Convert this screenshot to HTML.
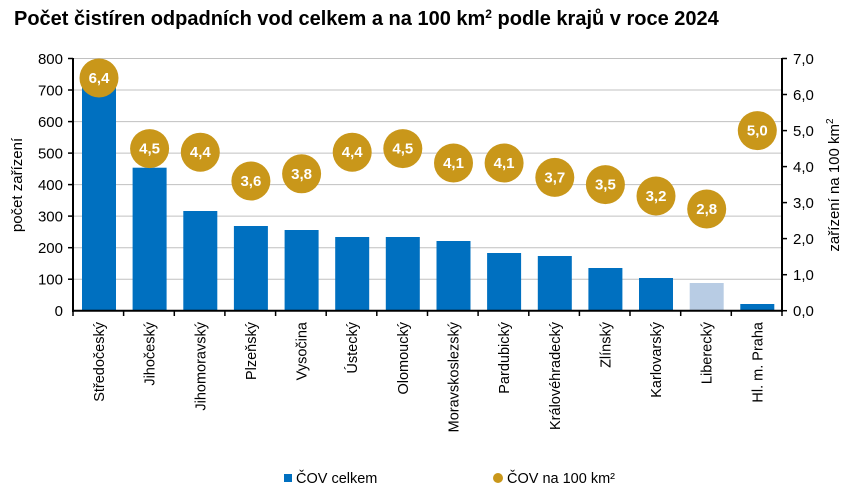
<!DOCTYPE html>
<html><head><meta charset="utf-8"><style>
body{margin:0;background:#fff;}
svg{font-family:"Liberation Sans",Arial,sans-serif;}
</style></head><body>
<svg width="856" height="496" viewBox="0 0 856 496" xmlns="http://www.w3.org/2000/svg">
<rect width="856" height="496" fill="#fff"/>
<text x="14" y="25" font-size="20" font-weight="bold" fill="#000">Počet čistíren odpadních vod celkem a na 100 km<tspan font-size="12" dy="-7">2</tspan><tspan dy="7"> podle krajů v roce 2024</tspan></text>
<g stroke="#c0c0c0" stroke-width="1">
<line x1="73" x2="782" y1="58.5" y2="58.5"/><line x1="73" x2="782" y1="90" y2="90"/><line x1="73" x2="782" y1="121.6" y2="121.6"/><line x1="73" x2="782" y1="153.1" y2="153.1"/><line x1="73" x2="782" y1="184.6" y2="184.6"/><line x1="73" x2="782" y1="216.1" y2="216.1"/><line x1="73" x2="782" y1="247.7" y2="247.7"/><line x1="73" x2="782" y1="279.2" y2="279.2"/>
</g>
<g fill="#0070c0">
<rect x="82" y="80" width="34" height="230.7"/>
<rect x="132.6" y="167.7" width="34" height="143"/>
<rect x="183.3" y="211" width="34" height="99.7"/>
<rect x="233.9" y="226" width="34" height="84.7"/>
<rect x="284.6" y="230" width="34" height="80.7"/>
<rect x="335.2" y="237" width="34" height="73.7"/>
<rect x="385.8" y="237" width="34" height="73.7"/>
<rect x="436.5" y="241" width="34" height="69.7"/>
<rect x="487.1" y="253" width="34" height="57.7"/>
<rect x="537.8" y="256" width="34" height="54.7"/>
<rect x="588.4" y="268" width="34" height="42.7"/>
<rect x="639" y="278" width="34" height="32.7"/>
<rect x="689.7" y="283" width="34" height="27.7" fill="#b8cce4"/>
<rect x="740.3" y="304" width="34" height="6.7"/>
</g>
<g stroke="#000" stroke-width="2" fill="none">
<line x1="73" y1="58" x2="73" y2="312"/>
<line x1="782" y1="58" x2="782" y2="312"/>
<line x1="72" y1="310.7" x2="783" y2="310.7"/>
</g>
<g stroke="#000" stroke-width="1.5">
<line x1="68" x2="73" y1="58.5" y2="58.5"/><line x1="68" x2="73" y1="90" y2="90"/><line x1="68" x2="73" y1="121.6" y2="121.6"/><line x1="68" x2="73" y1="153.1" y2="153.1"/><line x1="68" x2="73" y1="184.6" y2="184.6"/><line x1="68" x2="73" y1="216.1" y2="216.1"/><line x1="68" x2="73" y1="247.7" y2="247.7"/><line x1="68" x2="73" y1="279.2" y2="279.2"/>
<line x1="782" x2="787" y1="58.5" y2="58.5"/><line x1="782" x2="787" y1="94.5" y2="94.5"/><line x1="782" x2="787" y1="130.6" y2="130.6"/><line x1="782" x2="787" y1="166.6" y2="166.6"/><line x1="782" x2="787" y1="202.6" y2="202.6"/><line x1="782" x2="787" y1="238.6" y2="238.6"/><line x1="782" x2="787" y1="274.7" y2="274.7"/><line x1="782" x2="787" y1="310.7" y2="310.7"/>
<line x1="73" x2="73" y1="310" y2="316"/><line x1="123.6" x2="123.6" y1="310" y2="316"/><line x1="174.3" x2="174.3" y1="310" y2="316"/><line x1="224.9" x2="224.9" y1="310" y2="316"/><line x1="275.6" x2="275.6" y1="310" y2="316"/><line x1="326.2" x2="326.2" y1="310" y2="316"/><line x1="376.8" x2="376.8" y1="310" y2="316"/><line x1="427.5" x2="427.5" y1="310" y2="316"/><line x1="478.1" x2="478.1" y1="310" y2="316"/><line x1="528.8" x2="528.8" y1="310" y2="316"/><line x1="579.4" x2="579.4" y1="310" y2="316"/><line x1="630" x2="630" y1="310" y2="316"/><line x1="680.7" x2="680.7" y1="310" y2="316"/><line x1="731.3" x2="731.3" y1="310" y2="316"/><line x1="782" x2="782" y1="310" y2="316"/>
</g>
<g font-size="15" fill="#000" text-anchor="end">
<text x="63" y="64">800</text><text x="63" y="95.5">700</text><text x="63" y="127">600</text><text x="63" y="158.6">500</text><text x="63" y="190.1">400</text><text x="63" y="221.6">300</text><text x="63" y="253.2">200</text><text x="63" y="284.7">100</text><text x="63" y="316.2">0</text>
</g>
<g font-size="15" fill="#000" text-anchor="start">
<text x="793" y="64">7,0</text><text x="793" y="100">6,0</text><text x="793" y="136">5,0</text><text x="793" y="172">4,0</text><text x="793" y="208">3,0</text><text x="793" y="244">2,0</text><text x="793" y="280">1,0</text><text x="793" y="316">0,0</text>
</g>
<text transform="translate(22,185) rotate(-90)" font-size="15" text-anchor="middle">počet zařízení</text>
<text transform="translate(839,185) rotate(-90)" font-size="15" text-anchor="middle">zařízení na 100 km<tspan font-size="10" dy="-6">2</tspan></text>
<g font-size="14.5" fill="#000" text-anchor="end">
<text transform="translate(104,322) rotate(-90)">Středočeský</text>
<text transform="translate(154.6,322) rotate(-90)">Jihočeský</text>
<text transform="translate(205.3,322) rotate(-90)">Jihomoravský</text>
<text transform="translate(255.9,322) rotate(-90)">Plzeňský</text>
<text transform="translate(306.6,322) rotate(-90)">Vysočina</text>
<text transform="translate(357.2,322) rotate(-90)">Ústecký</text>
<text transform="translate(407.8,322) rotate(-90)">Olomoucký</text>
<text transform="translate(458.5,322) rotate(-90)">Moravskoslezský</text>
<text transform="translate(509.1,322) rotate(-90)">Pardubický</text>
<text transform="translate(559.8,322) rotate(-90)">Královéhradecký</text>
<text transform="translate(610.4,322) rotate(-90)">Zlínský</text>
<text transform="translate(661,322) rotate(-90)">Karlovarský</text>
<text transform="translate(711.7,322) rotate(-90)">Liberecký</text>
<text transform="translate(762.3,322) rotate(-90)">Hl. m. Praha</text>
</g>
<g fill="#c9971a">
<circle cx="99" cy="78" r="19.5"/><circle cx="149.6" cy="148.6" r="19.5"/><circle cx="200.3" cy="152.2" r="19.5"/><circle cx="250.9" cy="181" r="19.5"/><circle cx="301.6" cy="173.8" r="19.5"/><circle cx="352.2" cy="152.2" r="19.5"/><circle cx="402.8" cy="148.6" r="19.5"/><circle cx="453.5" cy="163" r="19.5"/><circle cx="504.1" cy="163" r="19.5"/><circle cx="554.8" cy="177.4" r="19.5"/><circle cx="605.4" cy="184.6" r="19.5"/><circle cx="656" cy="196" r="19.5"/><circle cx="706.7" cy="209" r="19.5"/><circle cx="757.3" cy="130.6" r="19.5"/>
</g>
<g font-size="15" font-weight="bold" fill="#fff" text-anchor="middle">
<text x="99" y="83">6,4</text><text x="149.6" y="153.6">4,5</text><text x="200.3" y="157.2">4,4</text><text x="250.9" y="186">3,6</text><text x="301.6" y="178.8">3,8</text><text x="352.2" y="157.2">4,4</text><text x="402.8" y="153.6">4,5</text><text x="453.5" y="168">4,1</text><text x="504.1" y="168">4,1</text><text x="554.8" y="182.4">3,7</text><text x="605.4" y="189.6">3,5</text><text x="656" y="201">3,2</text><text x="706.7" y="214">2,8</text><text x="757.3" y="135.6">5,0</text>
</g>
<rect x="284" y="474" width="8" height="8" fill="#0070c0"/>
<text x="296" y="483" font-size="14.5">ČOV celkem</text>
<circle cx="498" cy="478" r="5" fill="#c9971a"/>
<text x="507" y="483" font-size="14.5">ČOV na 100 km²</text>
</svg>
</body></html>
